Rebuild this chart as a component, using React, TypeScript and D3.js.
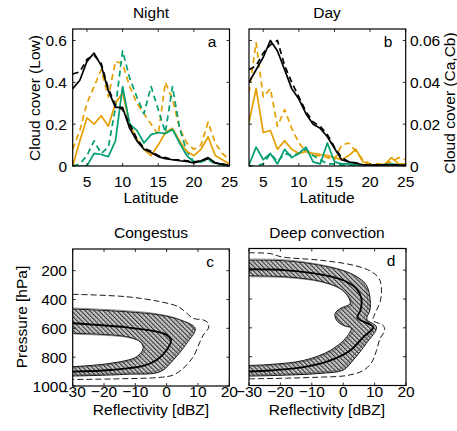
import React from 'react';
import * as d3 from 'd3';

// ---------- DATA ----------
const latitude = [3, 4, 5, 6, 7, 8, 9, 10, 11, 12, 13, 14, 15, 16, 17, 18, 19, 20, 21, 22, 23, 24, 25];

// Night (low cloud cover)
const nightBlackSolid = [0.37, 0.41, 0.50, 0.54, 0.48, 0.36, 0.28, 0.28, 0.18, 0.12, 0.08, 0.065, 0.045, 0.035, 0.03, 0.025, 0.022, 0.015, 0.025, 0.04, 0.015, 0.008, 0.002];
const nightBlackDashed = [0.44, 0.45, 0.51, 0.53, 0.49, 0.37, 0.29, 0.27, 0.2, 0.13, 0.085, 0.07, 0.05, 0.04, 0.03, 0.03, 0.025, 0.02, 0.025, 0.035, 0.015, 0.01, 0.003];
const nightOrangeSolid = [0.0, 0.12, 0.23, 0.2, 0.24, 0.19, 0.3, 0.35, 0.2, 0.13, 0.08, 0.05, 0.1, 0.16, 0.18, 0.12, 0.07, 0.05, 0.08, 0.14, 0.05, 0.03, 0.01];
const nightOrangeDashed = [0.08, 0.17, 0.3, 0.38, 0.46, 0.33, 0.5, 0.49, 0.38, 0.3, 0.25, 0.2, 0.15, 0.4, 0.32, 0.18, 0.11, 0.08, 0.1, 0.21, 0.11, 0.06, 0.03];
const nightGreenSolid = [0.0, 0.0, 0.0, 0.06, 0.055, 0.045, 0.12, 0.38, 0.2, 0.17, 0.11, 0.15, 0.16, 0.155, 0.175, 0.11, 0.05, 0.02, 0.02, 0.037, 0.015, 0.008, 0.0];
const nightGreenDashed = [0.0, 0.01, 0.05, 0.12, 0.06, 0.09, 0.28, 0.55, 0.42, 0.33, 0.25, 0.38, 0.27, 0.16, 0.38, 0.18, 0.07, 0.02, 0.02, 0.03, 0.01, 0.005, 0.0];

// Day (Ca, Cb cloud cover)
const dayBlackSolid = [0.04, 0.046, 0.052, 0.06, 0.055, 0.046, 0.037, 0.032, 0.025, 0.02, 0.018, 0.014, 0.0085, 0.003, 0.002, 0.0013, 0.0006, 0.0004, 0.0004, 0.0006, 0.0004, 0.0004, 0.0002];
const dayBlackDashed = [0.046, 0.048, 0.054, 0.058, 0.06, 0.048, 0.04, 0.033, 0.026, 0.021, 0.019, 0.015, 0.009, 0.004, 0.002, 0.0015, 0.0007, 0.0005, 0.0005, 0.0007, 0.0005, 0.0005, 0.0003];
const dayOrangeSolid = [0.021, 0.037, 0.016, 0.017, 0.008, 0.012, 0.008, 0.006, 0.007, 0.006, 0.0055, 0.005, 0.004, 0.003, 0.005, 0.008, 0.002, 0.0005, 0.0005, 0.0005, 0.004, 0.001, 0.001];
const dayOrangeDashed = [0.035, 0.059, 0.033, 0.037, 0.019, 0.027, 0.018, 0.011, 0.007, 0.005, 0.005, 0.004, 0.003, 0.01, 0.011, 0.007, 0.003, 0.001, 0.001, 0.001, 0.002, 0.004, 0.003];
const dayGreenSolid = [0.0005, 0.009, 0.003, 0.006, 0.001, 0.008, 0.004, 0.006, 0.009, 0.002, 0.001, 0.011, 0.002, 0.001, 0.001, 0.0005, 0.0003, 0.0, 0.0, 0.0005, 0.001, 0.0005, 0.0];
const dayGreenDashed = [0.0, 0.0, 0.001, 0.006, 0.002, 0.006, 0.005, 0.006, 0.008, 0.005, 0.003, 0.001, 0.001, 0.0005, 0.0003, 0.0, 0.0, 0.0, 0.0, 0.0003, 0.0005, 0.0003, 0.0];

const latTicks = [5, 10, 15, 20, 25];
const lowTicks = [0, 0.2, 0.4, 0.6];
const lowTickLabels = ['0', '0.2', '0.4', '0.6'];
const cbTicks = [0, 0.02, 0.04, 0.06];
const cbTickLabels = ['0', '0.02', '0.04', '0.06'];

// Contours [reflectivity dBZ, pressure hPa]
const congestusDashed: [number, number][] = [[-30, 364], [-12.8, 381], [-2.1, 415], [3.7, 450], [5.9, 485], [8.5, 531], [11.7, 542], [13.3, 565], [13.3, 600], [11.7, 646], [10.5, 700], [8.5, 797], [5.3, 877], [2.1, 924], [-2.1, 940], [-15, 950], [-30, 955]];
const congestusOuter: [number, number][] = [[-30, 466], [-12.8, 485], [-2.1, 508], [4.3, 542], [9.1, 600], [6.4, 704], [2.1, 820], [-2.1, 901], [-12.8, 919], [-30, 931]];
const congestusMid: [number, number][] = [[-30, 565], [-12.8, 593], [-3.2, 623], [0, 646], [1.4, 681], [0, 750], [-3.2, 820], [-7.5, 861], [-18, 889], [-30, 901]];
const congestusInner: [number, number][] = [[-30, 635], [-12.8, 658], [-8.5, 693], [-7.5, 739], [-9.6, 797], [-18, 843], [-30, 866]];

const deepDashed: [number, number][] = [[-30, 80], [-23.3, 85], [-19.6, 108], [-7.4, 131], [3.2, 166], [9.1, 212], [11.7, 270], [11.9, 409], [10.1, 502], [9.5, 548], [12.7, 583], [13.2, 618], [11.7, 676], [10.6, 757], [9.1, 838], [6.4, 896], [1.1, 931], [-7.4, 942], [-18, 949], [-30, 954]];
const deepOuter: [number, number][] = [[-30, 131], [-18, 136], [-7.4, 166], [1.1, 212], [5.3, 259], [7.4, 305], [8.5, 386], [8.5, 479], [7.5, 540], [10.6, 595], [7.4, 707], [3.2, 823], [0, 893], [-7.4, 916], [-18, 928], [-30, 935]];
const deepMid: [number, number][] = [[-30, 194], [-18, 201], [-7.4, 229], [0, 270], [4.2, 328], [5.8, 398], [5.5, 479], [4.5, 530], [9.5, 595], [6.4, 664], [2.2, 757], [-4.1, 826], [-12.6, 873], [-23.3, 896], [-30, 903]];
const deepInner: [number, number][] = [[-30, 240], [-18, 247], [-7.4, 277], [-1, 328], [1.6, 386], [2.2, 432], [-1, 467], [-2.6, 502], [-2.1, 548], [0, 583], [2.5, 600], [1.1, 664], [-4.1, 757], [-12.6, 826], [-23.3, 854], [-30, 861]];

const dbzTicks = [-30, -20, -10, 0, 10, 20];
const presTicks = [200, 400, 600, 800, 1000];

// ---------- STYLE ----------
const ORANGE = '#E69F00';
const GREEN = '#009E73';
const FONT = '"Liberation Sans", Arial, Helvetica, sans-serif';
const FS = 15.5;
const TICK = 3;
const minus = (v: number) => (v < 0 ? '\u2212' + Math.abs(v) : String(v));

type Box = { x0: number; x1: number; y0: number; y1: number };

function Frame({ box, xTicks, xs, yTicks, ys }: { box: Box; xTicks: number[]; xs: (v: number) => number; yTicks: number[]; ys: (v: number) => number }) {
  return (
    <g>
      {xTicks.map((t, i) => (
        <g key={'x' + i}>
          <line x1={xs(t)} x2={xs(t)} y1={box.y1} y2={box.y1 - TICK} stroke="#000" strokeWidth={0.8} />
          <line x1={xs(t)} x2={xs(t)} y1={box.y0} y2={box.y0 + TICK} stroke="#000" strokeWidth={0.8} />
        </g>
      ))}
      {yTicks.map((t, i) => (
        <g key={'y' + i}>
          <line x1={box.x0} x2={box.x0 + TICK} y1={ys(t)} y2={ys(t)} stroke="#000" strokeWidth={0.8} />
          <line x1={box.x1} x2={box.x1 - TICK} y1={ys(t)} y2={ys(t)} stroke="#000" strokeWidth={0.8} />
        </g>
      ))}
      <rect x={box.x0} y={box.y0} width={box.x1 - box.x0} height={box.y1 - box.y0} fill="none" stroke="#000" strokeWidth={1.2} />
    </g>
  );
}

function LinePanel({ id, box, ymax, series }: { id: string; box: Box; ymax: number; series: { v: number[]; c: string; d: boolean }[] }) {
  const x = d3.scaleLinear().domain([3, 25]).range([box.x0, box.x1]);
  const y = d3.scaleLinear().domain([0, ymax]).range([box.y1, box.y0]);
  const line = d3.line<number>().x((_, i) => x(latitude[i])).y((v) => y(v));
  return (
    <g>
      <clipPath id={id}>
        <rect x={box.x0} y={box.y0} width={box.x1 - box.x0} height={box.y1 - box.y0} />
      </clipPath>
      <g clipPath={`url(#${id})`}>
        {series.map((s, i) => (
          <path key={i} d={line(s.v) || ''} fill="none" stroke={s.c} strokeWidth={1.7} strokeDasharray={s.d ? '6,4' : undefined} strokeLinejoin="round" />
        ))}
      </g>
      <Frame box={box} xTicks={latTicks} xs={x} yTicks={ymax > 0.1 ? lowTicks : cbTicks} ys={y} />
    </g>
  );
}

function CfadPanel({ id, box, dashed, outer, mid, inner }: { id: string; box: Box; dashed: [number, number][]; outer: [number, number][]; mid: [number, number][]; inner: [number, number][] }) {
  const x = d3.scaleLinear().domain([-30, 20]).range([box.x0, box.x1]);
  const y = d3.scaleLinear().domain([50, 1000]).range([box.y0, box.y1]);
  const line = d3.line<[number, number]>().x((d) => x(d[0])).y((d) => y(d[1])).curve(d3.curveCatmullRom.alpha(0.5));
  const band = (line(outer) || '') + 'Z' + (line(inner) || '') + 'Z';
  const shift = (arr: [number, number][], dr: number, dp: number) => arr.map((d) => [d[0] + dr, d[1] + dp] as [number, number]);
  return (
    <g>
      <clipPath id={id}>
        <rect x={box.x0} y={box.y0} width={box.x1 - box.x0} height={box.y1 - box.y0} />
      </clipPath>
      <g clipPath={`url(#${id})`}>
        <path d={band} fill="url(#hatch)" fillRule="evenodd" stroke="none" />
        <path d={line(outer) || ''} fill="none" stroke="#000" strokeWidth={0.9} />
        <path d={line(shift(outer, -0.8, -8)) || ''} fill="none" stroke="#444" strokeWidth={0.6} />
        <path d={line(inner) || ''} fill="none" stroke="#000" strokeWidth={0.9} />
        <path d={line(shift(inner, 0.6, 6)) || ''} fill="none" stroke="#444" strokeWidth={0.6} />
        <path d={line(mid) || ''} fill="none" stroke="#000" strokeWidth={1.8} />
        <path d={line(dashed) || ''} fill="none" stroke="#000" strokeWidth={0.9} strokeDasharray="6,3" />
      </g>
      <Frame box={box} xTicks={dbzTicks} xs={x} yTicks={presTicks} ys={y} />
    </g>
  );
}

export default function App() {
  const boxA: Box = { x0: 72.7, x1: 229.5, y0: 29, y1: 166 };
  const boxB: Box = { x0: 249, x1: 405.7, y0: 29, y1: 166 };
  const boxC: Box = { x0: 72.7, x1: 229.3, y0: 249, y1: 386 };
  const boxD: Box = { x0: 249, x1: 406, y0: 248.5, y1: 385.5 };
  const xa = d3.scaleLinear().domain([3, 25]).range([boxA.x0, boxA.x1]);
  const xb = d3.scaleLinear().domain([3, 25]).range([boxB.x0, boxB.x1]);
  const ya = d3.scaleLinear().domain([0, 0.655]).range([boxA.y1, boxA.y0]);
  const yb = d3.scaleLinear().domain([0, 0.0655]).range([boxB.y1, boxB.y0]);
  const xc = d3.scaleLinear().domain([-30, 20]).range([boxC.x0, boxC.x1]);
  const xd = d3.scaleLinear().domain([-30, 20]).range([boxD.x0, boxD.x1]);
  const yc = d3.scaleLinear().domain([50, 1000]).range([boxC.y0, boxC.y1]);

  const night = [
    { v: nightOrangeDashed, c: ORANGE, d: true },
    { v: nightGreenDashed, c: GREEN, d: true },
    { v: nightOrangeSolid, c: ORANGE, d: false },
    { v: nightGreenSolid, c: GREEN, d: false },
    { v: nightBlackDashed, c: '#000', d: true },
    { v: nightBlackSolid, c: '#000', d: false },
  ];
  const day = [
    { v: dayOrangeDashed, c: ORANGE, d: true },
    { v: dayGreenDashed, c: GREEN, d: true },
    { v: dayOrangeSolid, c: ORANGE, d: false },
    { v: dayGreenSolid, c: GREEN, d: false },
    { v: dayBlackDashed, c: '#000', d: true },
    { v: dayBlackSolid, c: '#000', d: false },
  ];

  return (
    <svg width={457} height={431} style={{ position: 'absolute', left: 0, top: 0, background: '#fff' }} fontFamily={FONT} fontSize={FS}>
      <defs>
        <pattern id="hatch" width={3.2} height={3.2} patternUnits="userSpaceOnUse" patternTransform="rotate(-45)">
          <rect width={3.2} height={3.2} fill="#cfcfcf" />
          <line x1={0.5} y1={0} x2={0.5} y2={3.2} stroke="#222" strokeWidth={1} />
          <line x1={0} y1={1.6} x2={3.2} y2={1.6} stroke="#777" strokeWidth={0.5} />
        </pattern>
      </defs>
      <rect width={457} height={431} fill="#fff" />

      {/* Titles */}
      <text x={151} y={18} textAnchor="middle">Night</text>
      <text x={327} y={18} textAnchor="middle">Day</text>
      <text x={151} y={238} textAnchor="middle">Congestus</text>
      <text x={327} y={238} textAnchor="middle">Deep convection</text>

      <LinePanel id="clipA" box={boxA} ymax={0.655} series={night} />
      <LinePanel id="clipB" box={boxB} ymax={0.0655} series={day} />
      <CfadPanel id="clipC" box={boxC} dashed={congestusDashed} outer={congestusOuter} mid={congestusMid} inner={congestusInner} />
      <CfadPanel id="clipD" box={boxD} dashed={deepDashed} outer={deepOuter} mid={deepMid} inner={deepInner} />

      {/* Panel letters */}
      <text x={212} y={47} textAnchor="middle">a</text>
      <text x={388} y={47} textAnchor="middle">b</text>
      <text x={210} y={267} textAnchor="middle">c</text>
      <text x={391} y={266} textAnchor="middle">d</text>

      {/* Top row tick labels */}
      {latTicks.map((t) => (
        <text key={'la' + t} x={xa(t)} y={187} textAnchor="middle">{t}</text>
      ))}
      {latTicks.map((t) => (
        <text key={'lb' + t} x={xb(t)} y={187} textAnchor="middle">{t}</text>
      ))}
      {lowTicks.map((t, i) => (
        <text key={'ya' + i} x={67} y={ya(t) + 5.5} textAnchor="end">{lowTickLabels[i]}</text>
      ))}
      {cbTicks.map((t, i) => (
        <text key={'yb' + i} x={410} y={yb(t) + 5.5} textAnchor="start">{cbTickLabels[i]}</text>
      ))}
      <text x={151} y={203} textAnchor="middle">Latitude</text>
      <text x={327} y={203} textAnchor="middle">Latitude</text>
      <text transform="translate(40,98) rotate(-90)" textAnchor="middle">Cloud cover (Low)</text>
      <text transform="translate(455,103) rotate(-90)" textAnchor="middle">Cloud cover (Ca,Cb)</text>

      {/* Bottom row tick labels */}
      {dbzTicks.map((t) => (
        <text key={'xc' + t} x={xc(t)} y={397} textAnchor="middle">{minus(t)}</text>
      ))}
      {dbzTicks.map((t) => (
        <text key={'xd' + t} x={xd(t)} y={397} textAnchor="middle">{minus(t)}</text>
      ))}
      {presTicks.map((t) => (
        <text key={'pc' + t} x={67} y={yc(t) + 5.5} textAnchor="end">{t}</text>
      ))}
      <text x={151} y={415} textAnchor="middle">Reflectivity [dBZ]</text>
      <text x={327} y={415} textAnchor="middle">Reflectivity [dBZ]</text>
      <text transform="translate(27,317) rotate(-90)" textAnchor="middle">Pressure [hPa]</text>
    </svg>
  );
}
